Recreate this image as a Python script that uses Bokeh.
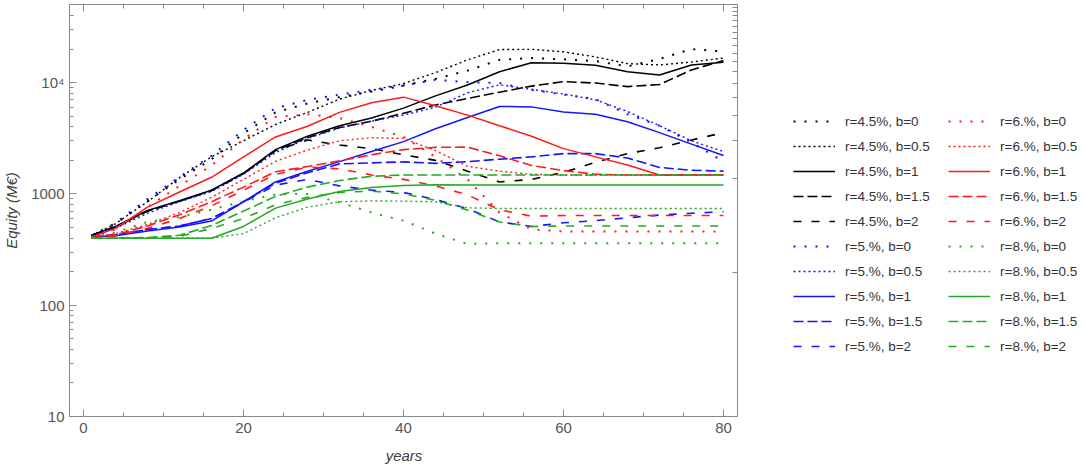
from bokeh.plotting import figure
from bokeh.layouts import row
from bokeh.models import (FixedTicker, LinearAxis, Legend, LegendItem, Range1d)
from bokeh.embed import file_html
from bokeh.resources import INLINE

years = [1, 4, 8, 12, 16, 20, 24, 28, 32, 36, 40, 44, 48, 52, 56, 60, 64, 68, 72, 76, 80]

# r = 4.5 %
r45_b0 = [420, 540, 860, 1350, 2050, 3500, 5400, 6500, 7400, 8300, 9400, 10800, 12800, 16000, 16600, 16200, 15600, 14000, 16300, 20000, 19000]
r45_b05 = [420, 540, 850, 1400, 2150, 3000, 4200, 5400, 7100, 8500, 9800, 12300, 16000, 19800, 19900, 18900, 17000, 14800, 14400, 15300, 16600]
r45_b1 = [425, 510, 710, 870, 1080, 1540, 2500, 3300, 4100, 4800, 5900, 7600, 9500, 12500, 15100, 14900, 14300, 12500, 11700, 14400, 15200]
r45_b15 = [425, 505, 700, 860, 1070, 1520, 2450, 3200, 3950, 4500, 5300, 6300, 7200, 8200, 9300, 10200, 9900, 9200, 9600, 13000, 15800]
r45_b2 = [425, 505, 700, 860, 1070, 1520, 2450, 3050, 2750, 2550, 2250, 2000, 1600, 1280, 1350, 1560, 1920, 2300, 2600, 3050, 3550]
# r = 5 %
r5_b0 = [420, 550, 900, 1420, 2200, 3750, 5900, 7000, 7800, 8600, 9400, 10600, 10100, 9900, 8600, 7800, 7100, 5200, 4100, 2900, 1950]
r5_b05 = [420, 490, 670, 850, 1050, 1500, 2350, 3150, 3900, 4500, 5100, 6000, 8100, 9550, 8700, 7900, 7000, 5500, 4100, 3000, 2400]
r5_b1 = [410, 420, 465, 505, 570, 850, 1280, 1600, 1950, 2400, 2950, 3850, 4850, 6100, 6050, 5450, 5200, 4450, 3550, 2800, 2210]
r5_b15 = [410, 430, 478, 515, 600, 850, 1250, 1550, 1860, 1900, 1940, 1880, 1950, 2050, 2150, 2300, 2300, 2100, 1730, 1630, 1600]
r5_b2 = [410, 430, 478, 515, 600, 840, 1200, 1350, 1180, 1080, 1030, 890, 735, 560, 510, 550, 575, 610, 645, 670, 690]
# r = 6 %
r6_b0 = [410, 480, 760, 1180, 1800, 3100, 4900, 5200, 4800, 4000, 3250, 2150, 1350, 680, 480, 460, 460, 460, 460, 460, 460]
r6_b05 = [410, 440, 530, 680, 930, 1350, 1960, 2480, 3000, 3200, 3150, 2450, 1770, 1600, 1500, 1480, 1480, 1480, 1480, 1480, 1480]
r6_b1 = [410, 490, 760, 1040, 1410, 2150, 3250, 4050, 5400, 6600, 7400, 6200, 5100, 4100, 3300, 2550, 2150, 1820, 1480, 1480, 1480]
r6_b15 = [400, 430, 515, 650, 850, 1150, 1580, 1760, 1980, 2250, 2500, 2620, 2630, 2200, 1800, 1620, 1500, 1480, 1480, 1480, 1480]
r6_b2 = [400, 420, 490, 600, 780, 1080, 1500, 1740, 1680, 1480, 1350, 1180, 980, 720, 630, 640, 640, 640, 640, 640, 640]
# r = 8 %
r8_b0 = [400, 450, 560, 620, 720, 860, 990, 1000, 840, 680, 575, 440, 355, 360, 360, 360, 360, 360, 360, 360, 360]
r8_b05 = [400, 400, 400, 400, 400, 440, 610, 760, 850, 865, 860, 850, 750, 740, 740, 740, 740, 740, 740, 740, 740]
r8_b1 = [400, 400, 400, 400, 400, 510, 745, 900, 1050, 1140, 1190, 1210, 1200, 1200, 1200, 1200, 1200, 1200, 1200, 1200, 1200]
r8_b15 = [400, 400, 405, 425, 520, 700, 950, 1150, 1320, 1440, 1480, 1480, 1480, 1480, 1480, 1480, 1480, 1480, 1480, 1480, 1480]
r8_b2 = [400, 400, 400, 415, 490, 600, 800, 930, 1030, 1060, 1000, 875, 715, 560, 510, 515, 515, 515, 515, 515, 515]

rates = ["4.5%", "5.%", "6.%", "8.%"]
b_labels = ["0", "0.5", "1", "1.5", "2"]
x_ticks = [0, 20, 40, 60, 80]
y_ticks = [10, 100, 1000, 10000]
y_tick_labels = ["10", "100", "1000", "10\u2074"]

series = [
    [r45_b0, r45_b05, r45_b1, r45_b15, r45_b2],
    [r5_b0, r5_b05, r5_b1, r5_b15, r5_b2],
    [r6_b0, r6_b05, r6_b1, r6_b15, r6_b2],
    [r8_b0, r8_b05, r8_b1, r8_b15, r8_b2],
]
colors = ["#000000", "#1414ff", "#ff1a1a", "#22aa22"]
styles = [
    dict(line_dash="2 9", line_width=2.0),
    dict(line_dash="2 3", line_width=1.4),
    dict(line_dash="solid", line_width=1.5),
    dict(line_dash="10 4", line_width=1.6),
    dict(line_dash="8 10", line_width=1.6),
]

AX = "#8a8a8a"
TXT = "#555555"
FONT = "Liberation Sans"

p = figure(frame_width=669, frame_height=412, x_range=Range1d(-1.75, 81.875),
           y_range=Range1d(10, 50300), y_axis_type="log",
           output_backend="svg", toolbar_location=None,
           min_border_left=60, min_border_right=0,
           min_border_top=4, min_border_bottom=43)
p.grid.visible = False
p.outline_line_color = AX
p.background_fill_color = "white"

for ri, rate in enumerate(rates):
    for bi, b in enumerate(b_labels):
        p.line(years, series[ri][bi], line_color=colors[ri], **styles[bi])

# axes
minor_x = [v for v in range(0, 81, 5) if v % 20]
xa = p.xaxis[0]
xa.ticker = FixedTicker(ticks=x_ticks, minor_ticks=minor_x)
ya = p.yaxis[0]
minor_y = [m * 10 ** e for e in range(1, 5) for m in range(2, 10)]
ya.ticker = FixedTicker(ticks=y_ticks, minor_ticks=minor_y)
ya.major_label_overrides = {float(t): l for t, l in zip(y_ticks, y_tick_labels)}
for ax in (xa, ya):
    ax.axis_line_color = AX
    ax.major_tick_line_color = AX
    ax.minor_tick_line_color = AX
    ax.major_tick_in = 7
    ax.major_tick_out = 0
    ax.minor_tick_in = 4
    ax.minor_tick_out = 0
    ax.major_label_text_color = TXT
    ax.major_label_text_font = FONT
    ax.major_label_text_font_size = "15px"
    ax.axis_label_text_font = FONT
    ax.axis_label_text_font_size = "15px"
    ax.axis_label_text_font_style = "italic"
    ax.axis_label_text_color = "#404040"
xa.axis_label = "years"
xa.major_label_standoff = 6
xa.axis_label_standoff = 11
ya.axis_label = "Equity (M\u20ac)"
ya.major_label_standoff = 5
ya.axis_label_standoff = 8

top = LinearAxis(ticker=FixedTicker(ticks=x_ticks, minor_ticks=minor_x))
top.major_label_text_font_size = "0px"
top.major_label_standoff = 0
top.axis_line_color = AX
top.major_tick_line_color = AX
top.minor_tick_line_color = AX
top.major_tick_in = 7
top.major_tick_out = 0
top.minor_tick_in = 4
top.minor_tick_out = 0
p.add_layout(top, "above")

p.extra_y_ranges = {"rt": Range1d(0, 412)}
right = LinearAxis(y_range_name="rt",
                   ticker=FixedTicker(ticks=[8.2 + 24.3 * k for k in range(17)], minor_ticks=[]))
right.major_label_text_font_size = "0px"
right.major_label_standoff = 0
right.axis_line_color = AX
right.major_tick_line_color = AX
right.major_tick_in = 6
right.major_tick_out = 0
p.add_layout(right, "right")

# legend panel (separate figure to the right of the plot; its lines fall outside its ranges)
q = figure(width=339, height=452, output_backend="svg", toolbar_location=None,
           x_axis_type=None, y_axis_type=None, min_border=0,
           x_range=Range1d(0, 1), y_range=Range1d(0, 1))
q.grid.visible = False
q.outline_line_color = None

items = []
for ri in (0, 1, 2, 3):
    for bi, b in enumerate(b_labels):
        g = q.line(years, series[ri][bi], line_color=colors[ri], **styles[bi])
        items.append(LegendItem(label="r=%s, b=%s" % (rates[ri], b), renderers=[g]))

legend = Legend(items=items, location=(55, 46), orientation="vertical", nrows=10)
legend.border_line_alpha = 0
legend.background_fill_alpha = 0
legend.glyph_width = 42
legend.glyph_height = 20
legend.label_height = 20
legend.label_width = 98
legend.spacing = 5
legend.label_standoff = 10
legend.padding = 0
legend.margin = 0
legend.label_text_font = FONT
legend.label_text_font_size = "13.5px"
legend.label_text_color = "#333333"
q.add_layout(legend, "center")

open("out.html", "w").write(file_html(row(p, q), INLINE))
